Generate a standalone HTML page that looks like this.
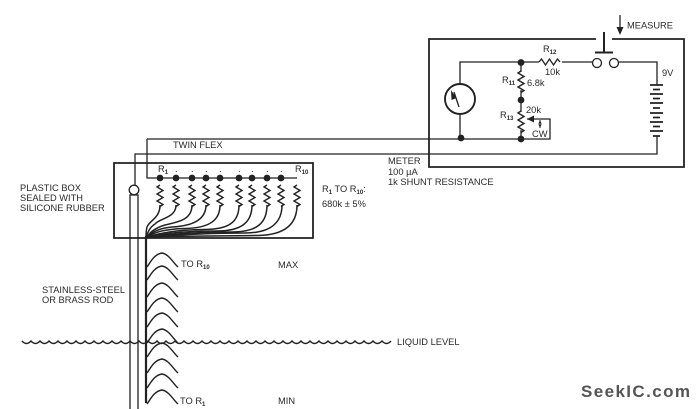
<!DOCTYPE html>
<html><head><meta charset="utf-8"><style>
html,body{margin:0;padding:0;background:#fff;width:700px;height:409px;overflow:hidden}
svg{display:block;filter:blur(.35px)}
text{font-family:"Liberation Sans",sans-serif;font-size:9.3px;fill:#2a2a2a}
.s{font-size:6px;font-weight:bold}
.w{fill:none;stroke:#222;stroke-width:1.3}
</style></head><body>
<svg width="700" height="409" viewBox="0 0 700 409" xmlns="http://www.w3.org/2000/svg">
<defs>
<path id="z" d="M0 0l-3 2 6 3.500-6 3.500 6 3.500-6 3.500 6 3.500-3 2" fill="none" stroke="#222" stroke-width="1.400"/>
<path id="h" d="M0 14C3 10 7 1 15 0C22 1 27 11 31 14" fill="none" stroke="#222" stroke-width="1.400"/>
</defs>
<g class="w">
<path d="M596 39H429V167H684V39H612" stroke-width="1.800"/>
<path d="M604 32V53M595 52.500H613" stroke-width="2"/>
<path d="M620 15V30" stroke-width="1.300"/>
<path d="M460 84V62H539M562 62H592M619 62H657V85M460 115V139"/>
<path d="M539 62l2.500-3 4 6 4-6 4 6 4-6 2.500 3"/>
<circle cx="597" cy="63" r="4.500"/><circle cx="614" cy="63" r="4.500"/>
<circle cx="460" cy="99" r="15" stroke-width="1.900"/>
<path d="M459 107L454 92" stroke-width="1.300"/>
<path d="M521 62V72M521 90V112M521 130V139H550V119H527"/>
<path d="M657 136V154H135V185"/>
<path d="M147 139H521M147 139V178H297"/>
<path d="M650 85H663M650 94H663M650 103H663M650 113H663M650 122H663M650 131H663" stroke-width="1.700"/>
<path d="M653 89.500H660M653 98.500H660M653 108H660M653 117.500H660M653 126.500H660M653 136H660" stroke-width="1.700"/>
<path d="M114 163H313V238H114Z" stroke-width="1.800"/>
<circle cx="134" cy="190" r="4.800"/>
<path d="M130 409V195H138V409"/>
<path d="M146 236V403" stroke-width="2.200"/>
<g stroke-width="1.500">
<path d="M160 205C160 218 150 220 147 227C146 231 146 234 146 238"/>
<path d="M176 205C176 218 160 218 155 224C150 227 148 232 146 237"/>
<path d="M192 205C192 220 178 222 165 225C155 228 150 232 147 237"/>
<path d="M206 205C206 220 192 226 172 227C160 228 152 232 147 237"/>
<path d="M220 205C220 220 210 228 185 228.500C165 229 155 232 147 237"/>
<path d="M239 205C239 222 229 229.500 204 229.500C175 230 160 233 147 237"/>
<path d="M252 205C252 222 242 231 217 231C185 231 165 233 147 237"/>
<path d="M267 205C267 223 257 232 232 232C195 232 170 234 147 237"/>
<path d="M282 205C282 223 270 233 245 233C205 233 175 235 147 237"/>
<path d="M297 205C297 224 285 235 258 235.500C215 236 180 236 147 237"/>
</g>
<path d="M22 341q4.500 5 9 0q4.500 5 9 0q4.500 5 9 0q4.500 5 9 0q4.500 5 9 0q4.500 5 9 0q4.500 5 9 0q4.500 5 9 0q4.500 5 9 0q4.500 5 9 0q4.500 5 9 0q4.500 5 9 0q4.500 5 9 0q4.500 5 9 0q4.500 5 9 0q4.500 5 9 0q4.500 5 9 0q4.500 5 9 0q4.500 5 9 0q4.500 5 9 0q4.500 5 9 0q4.500 5 9 0q4.500 5 9 0q4.500 5 9 0q4.500 5 9 0q4.500 5 9 0q4.500 5 9 0q4.500 5 9 0q4.500 5 9 0q4.500 5 9 0q4.500 5 9 0q4.500 5 9 0q4.500 5 9 0q4.500 5 9 0q4.500 5 9 0q4.500 5 9 0q4.500 5 9 0q4.500 5 9 0q4.500 5 9 0q4.500 5 9 0q4.500 5 9 0" stroke-width="1.400"/>
</g>
<path d="M620 35l-3.500-8h7zM451 90l5.500 8-5 2zM527 119l7-3.500v7zM540 128l-2-4.500h4zM540 120l-2 4.500h4z" fill="#222"/>
<path d="M540 120V128" stroke="#222" stroke-width="1"/>
<g fill="#222">
<circle cx="521" cy="62.500" r="3.400"/><circle cx="521" cy="100" r="3.400"/><circle cx="521" cy="139" r="3.400"/><circle cx="461" cy="138" r="3.400"/>
<circle cx="160" cy="178" r="3.400"/><circle cx="176" cy="178" r="3.400"/><circle cx="192" cy="178" r="3.400"/><circle cx="206" cy="178" r="3.400"/><circle cx="220" cy="178" r="3.400"/><circle cx="239" cy="178" r="3.400"/><circle cx="252" cy="178" r="3.400"/><circle cx="267" cy="178" r="3.400"/><circle cx="281" cy="178" r="3.400"/>
</g>
<use href="#z" x="521" y="71"/><use href="#z" x="521" y="111"/>
<use href="#z" x="160" y="185"/><use href="#z" x="176" y="185"/><use href="#z" x="192" y="185"/><use href="#z" x="206" y="185"/><use href="#z" x="220" y="185"/><use href="#z" x="239" y="185"/><use href="#z" x="252" y="185"/><use href="#z" x="267" y="185"/><use href="#z" x="281" y="185"/><use href="#z" x="297" y="185"/>
<use href="#h" x="147" y="253"/><use href="#h" x="147" y="266"/><use href="#h" x="147" y="283"/><use href="#h" x="147" y="298"/><use href="#h" x="147" y="313"/><use href="#h" x="147" y="329"/><use href="#h" x="147" y="343"/><use href="#h" x="147" y="359"/><use href="#h" x="147" y="374"/><use href="#h" x="147" y="390"/>
<text x="627" y="28.500">MEASURE</text>
<text x="543" y="52">R<tspan class="s" dy="2">12</tspan></text>
<text x="545" y="75">10k</text>
<text x="662" y="76">9V</text>
<text x="502" y="83">R<tspan class="s" dy="2">11</tspan></text>
<text x="527" y="86">6.8k</text>
<text x="526" y="113">20k</text>
<text x="500" y="118">R<tspan class="s" dy="2">13</tspan></text>
<text x="532" y="137">CW</text>
<text x="388" y="164">METER</text>
<text x="388" y="175">100 µA</text>
<text x="388" y="185">1k SHUNT RESISTANCE</text>
<text x="173" y="148">TWIN FLEX</text>
<text x="158" y="172">R<tspan class="s" dy="2">1</tspan></text>
<text x="295" y="172">R<tspan class="s" dy="2">10</tspan></text>
<text x="175" y="172">.</text><text x="191" y="172">.</text><text x="205" y="172">.</text><text x="219" y="172">.</text><text x="238" y="172">.</text><text x="251" y="172">.</text><text x="266" y="172">.</text><text x="280" y="172">.</text>
<text x="322" y="192">R<tspan class="s" dy="2">1</tspan><tspan dy="-2"> TO R</tspan><tspan class="s" dy="2">10</tspan><tspan dy="-2">:</tspan></text>
<text x="322" y="207">680k ± 5%</text>
<text x="20" y="191">PLASTIC BOX</text>
<text x="20" y="201">SEALED WITH</text>
<text x="20" y="211">SILICONE RUBBER</text>
<text x="181" y="267">TO R<tspan class="s" dy="2">10</tspan></text>
<text x="278" y="268">MAX</text>
<text x="42" y="293">STAINLESS-STEEL</text>
<text x="42" y="303">OR BRASS ROD</text>
<text x="397" y="345">LIQUID LEVEL</text>
<text x="180" y="404">TO R<tspan class="s" dy="2">1</tspan></text>
<text x="278" y="404">MIN</text>
<text x="581" y="397" style="font-size:17px;font-weight:bold;fill:#555;letter-spacing:1.400px">SeekIC.com</text>
</svg>
</body></html>
